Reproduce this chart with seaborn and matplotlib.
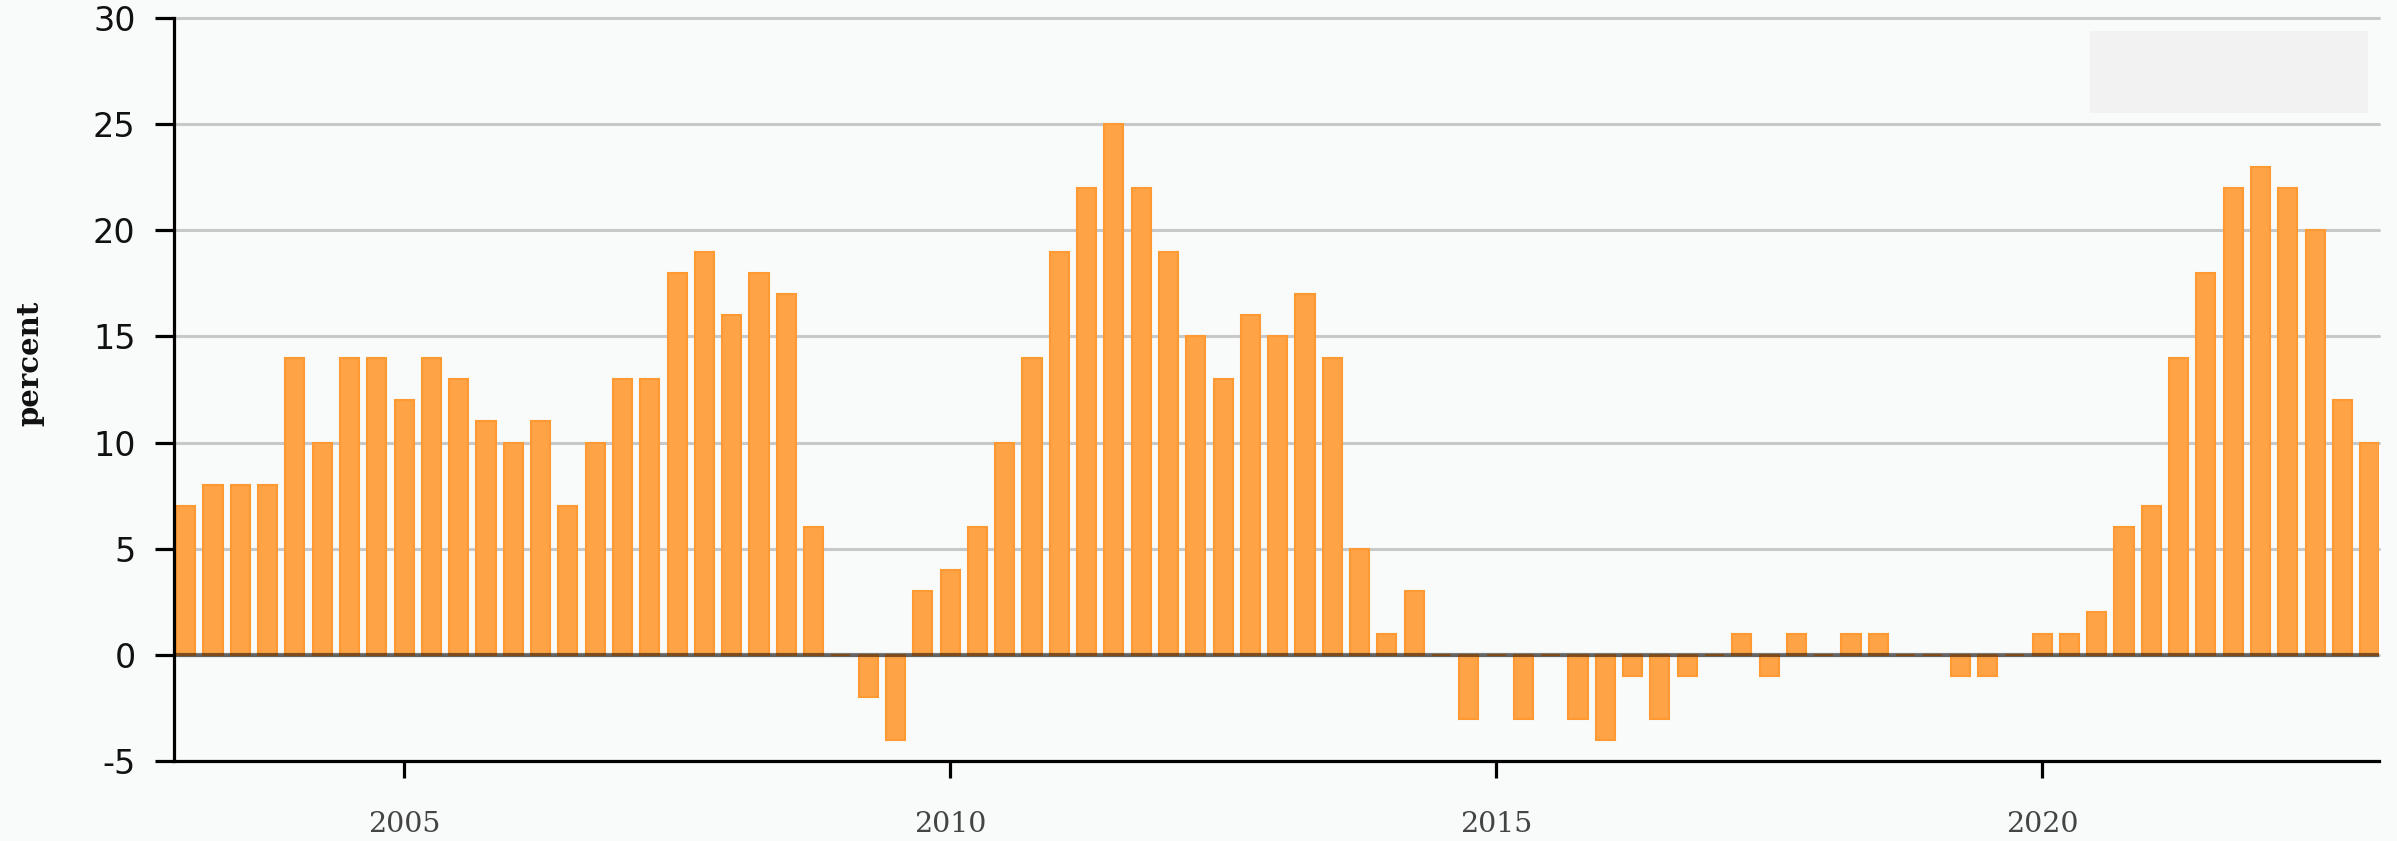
import pandas as pd
import matplotlib.pyplot as plt
from matplotlib.patches import Rectangle
import seaborn as sns

# -------------------------------
# Data (quarterly, percent)
# -------------------------------
first_year = 2003

growth = [
    7, 8, 8, 8,        # 2003
    14, 10, 14, 14,    # 2004
    12, 14, 13, 11,    # 2005
    10, 11, 7, 10,     # 2006
    13, 13, 18, 19,    # 2007
    16, 18, 17, 6,     # 2008
    0, -2, -4, 3,      # 2009
    4, 6, 10, 14,      # 2010
    19, 22, 25, 22,    # 2011
    19, 15, 13, 16,    # 2012
    15, 17, 14, 5,     # 2013
    1, 3, 0, -3,       # 2014
    0, -3, 0, -3,      # 2015
    -4, -1, -3, -1,    # 2016
    0, 1, -1, 1,       # 2017
    0, 1, 1, 0,        # 2018
    0, -1, -1, 0,      # 2019
    1, 1, 2, 6,        # 2020
    7, 14, 18, 22,     # 2021
    23, 22, 20, 12,    # 2022
    10,                # 2023
]

year_ticks = [2005, 2010, 2015, 2020]
y_ticks = [-5, 0, 5, 10, 15, 20, 25, 30]

quarters = [first_year + i / 4 for i in range(len(growth))]
df = pd.DataFrame({"quarter": quarters, "growth": growth})

# -------------------------------
# Style
# -------------------------------
sns.set_theme(style="white")
plt.rcParams["font.family"] = ["DejaVu Sans"]
plt.rcParams["axes.unicode_minus"] = False

bg = "#f9fafa"

fig = plt.figure(figsize=(23.97, 8.41), dpi=100, facecolor=bg)
ax = fig.add_axes([0.0726, 0.0951, 0.9199, 0.8835], facecolor=bg)

# -------------------------------
# Bars
# -------------------------------
sns.barplot(
    data=df,
    x="quarter",
    y="growth",
    native_scale=True,
    width=0.7,
    color="#ffa347",
    saturation=1,
    edgecolor="#ff9a33",
    linewidth=1.5,
    errorbar=None,
    ax=ax,
    zorder=2,
)

ax.axhline(0, color="black", alpha=0.5, lw=3.0, zorder=3)

ax.set_xlim(2002.893, 2023.085)
ax.set_ylim(-5, 30)
ax.set_xticks(year_ticks)
ax.set_xticklabels([str(y) for y in year_ticks])
ax.set_yticks(y_ticks)
ax.set_xlabel("")
ax.set_ylabel("")

# grid
ax.set_axisbelow(True)
ax.yaxis.grid(True, color="#c8c8c8", lw=2.2)
for gl in ax.get_ygridlines():
    gl.set_clip_on(False)

# spines
sns.despine(ax=ax)
for side in ["left", "bottom"]:
    ax.spines[side].set_color("black")
    ax.spines[side].set_linewidth(2.3)

ax.tick_params(axis="y", left=True, length=13.7, width=2.3, color="black",
               pad=14, labelsize=24, labelcolor="#111111")
ax.tick_params(axis="x", bottom=True, length=12, width=2.3, color="black",
               pad=24, labelsize=20.5, labelcolor="#444444")
for lbl in ax.get_xticklabels():
    lbl.set_family("DejaVu Serif")

# empty legend box
ax.add_patch(Rectangle((0.869, 0.872), 0.126, 0.1105, transform=ax.transAxes,
                       facecolor="#f2f2f2", edgecolor="none", zorder=1))

fig.text(30 / 2397, 1 - 363 / 841, "percent", rotation=90, ha="center",
         va="center", family="DejaVu Serif", weight="bold", fontsize=21,
         color="#111111")

fig.savefig("out.png", dpi=100, facecolor=bg)
